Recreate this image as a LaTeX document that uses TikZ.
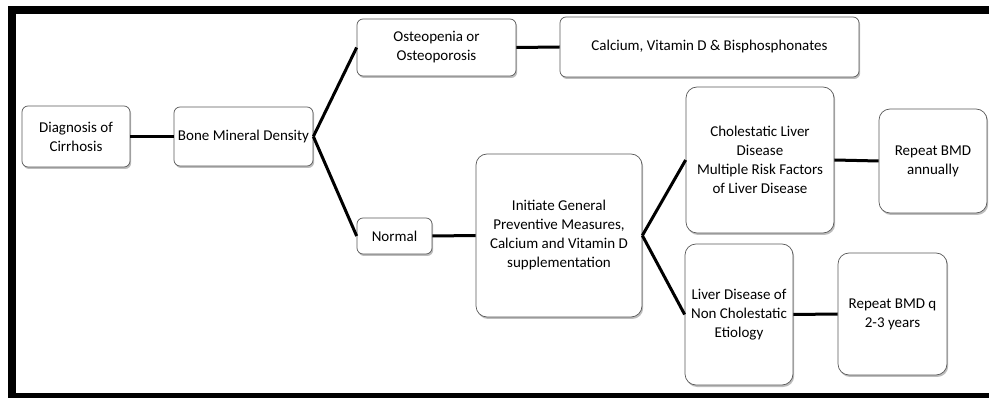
\documentclass[tikz,border=0pt]{standalone}
\usepackage{fontspec}
\setmainfont{Carlito}
\usetikzlibrary{shadows}
\tikzset{
  box/.style={draw=gray!70!black, line width=0.7pt, fill=white, rounded corners=6pt,
    align=center, inner sep=2pt, text=black,
    font=\fontsize{15}{19}\selectfont,
    drop shadow={shadow xshift=1.2pt, shadow yshift=-2pt, fill=gray!60, opacity=0.85}},
  bigbox/.style={box, rounded corners=11pt},
  link/.style={line width=3pt, black},
  frame/.style={fill=black}
}
\begin{document}
\begin{tikzpicture}[x=1pt,y=-1pt]
\useasboundingbox (0,0) rectangle (989,398);
\fill[frame] (8,6) rectangle (989,14);
\fill[frame] (8,6) rectangle (16,398);
\fill[frame] (8,393) rectangle (989,398);

\node[box, minimum width=108pt, minimum height=61pt] (diag) at (76,136.5) {Diagnosis of\\Cirrhosis};
\node[box, minimum width=139pt, minimum height=59pt] (bmd) at (243.5,136.5) {Bone Mineral Density};
\node[box, minimum width=159pt, minimum height=57pt] (osteo) at (436.5,47.5) {Osteopenia or\\Osteoporosis};
\node[box, minimum width=299pt, minimum height=60pt] (calc) at (709.5,47) {Calcium, Vitamin D \& Bisphosphonates};
\node[box, minimum width=75pt, minimum height=36pt] (normal) at (394.5,236) {Normal};
\node[bigbox, minimum width=166pt, minimum height=163pt] (init) at (559,235.5) {Initiate General\\Preventive Measures,\\Calcium and Vitamin D\\supplementation};
\node[bigbox, minimum width=148pt, minimum height=146pt] (chol) at (760,160) {Cholestatic Liver\\Disease\\Multiple Risk Factors\\of Liver Disease};
\node[bigbox, minimum width=108pt, minimum height=104pt] (rep1) at (933,161) {Repeat BMD\\annually};
\node[bigbox, minimum width=108pt, minimum height=141pt] (liver) at (739,314.5) {Liver Disease of\\Non Cholestatic\\Etiology};
\node[bigbox, minimum width=109pt, minimum height=122pt] (rep2) at (892.5,314) {Repeat BMD q\\2-3 years};

\draw[link] (diag.east) -- (bmd.west);
\draw[link] (bmd.east) -- (osteo.west);
\draw[link] (bmd.east) -- (normal.west);
\draw[link] (osteo.east) -- (calc.west);
\draw[link] (normal.east) -- (init.west);
\draw[link] (init.east) -- (chol.west);
\draw[link] (init.east) -- (liver.west);
\draw[link] (chol.east) -- (rep1.west);
\draw[link] (liver.east) -- (rep2.west);
\end{tikzpicture}
\end{document}
